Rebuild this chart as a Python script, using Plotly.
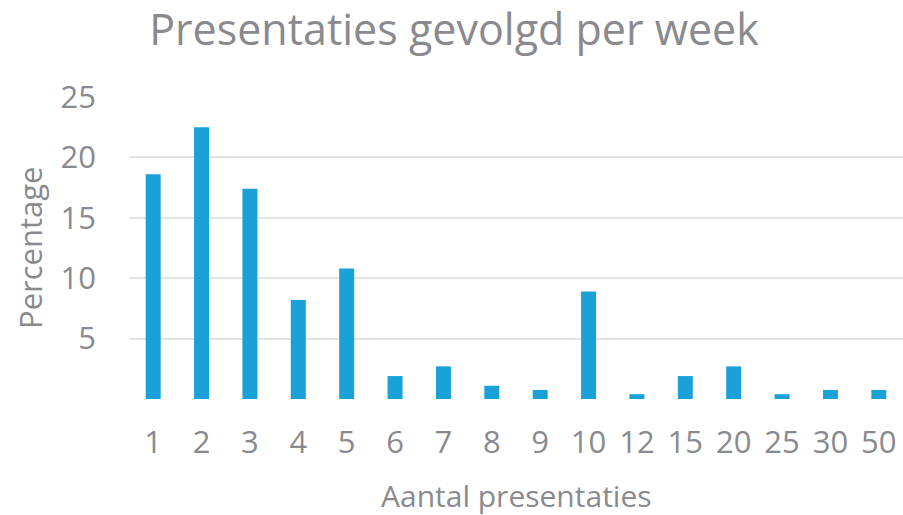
import plotly.graph_objects as go

categories = ["1", "2", "3", "4", "5", "6", "7", "8", "9", "10", "12", "15", "20", "25", "30", "50"]
percentages = [18.6, 22.5, 17.4, 8.2, 10.8, 1.9, 2.7, 1.1, 0.75, 8.9, 0.4, 1.9, 2.7, 0.4, 0.75, 0.75]
y_ticks = [0, 5, 10, 15, 20, 25]
y_ticktext = ["", "5", "10", "15", "20", "25"]

grey = "#8a8a8e"
font = "Open Sans"

W, H = 903, 515
L, T, B = 129, 97, 116
PW, PH = W - L, H - T - B

fig = go.Figure(go.Bar(x=categories, y=percentages, marker=dict(color="#1aa1d8", line=dict(width=0))))

fig.update_layout(
    width=W, height=H,
    paper_bgcolor="white", plot_bgcolor="white",
    margin=dict(l=L, r=0, t=T, b=B, autoexpand=False),
    bargap=0.69,
    showlegend=False,
    font=dict(family=font, color=grey),
    title=dict(text="Presentaties gevolgd per week", x=454 / W, xanchor="center",
               y=1 - 30 / H, yanchor="middle",
               font=dict(size=43, color=grey, family=font)),
)
fig.update_xaxes(type="category", showgrid=False, zeroline=False, showline=False, automargin=False,
                 tickfont=dict(size=31, color=grey), ticks="", ticklabelstandoff=22)
fig.update_yaxes(range=[0, 25], tickvals=y_ticks, ticktext=y_ticktext, showgrid=True, automargin=False,
                 gridcolor="#e4e4e4", gridwidth=1.5, zeroline=False, showline=False,
                 tickfont=dict(size=31, color=grey), ticks="", ticklabelstandoff=32)

fig.add_annotation(text="Percentage", xref="paper", yref="paper", x=(30 - L) / PW, y=0.5,
                   textangle=-90, showarrow=False, xanchor="center", yanchor="middle",
                   font=dict(size=31, color=grey, family=font))
fig.add_annotation(text="Aantal presentaties", xref="paper", yref="paper", x=(516 - L) / PW,
                   y=-(495 - (T + PH)) / PH, showarrow=False, xanchor="center", yanchor="middle",
                   font=dict(size=30, color=grey, family=font))

fig.write_html("out.html", config={"displayModeBar": False},
               post_script="document.body.style.margin='0';")
